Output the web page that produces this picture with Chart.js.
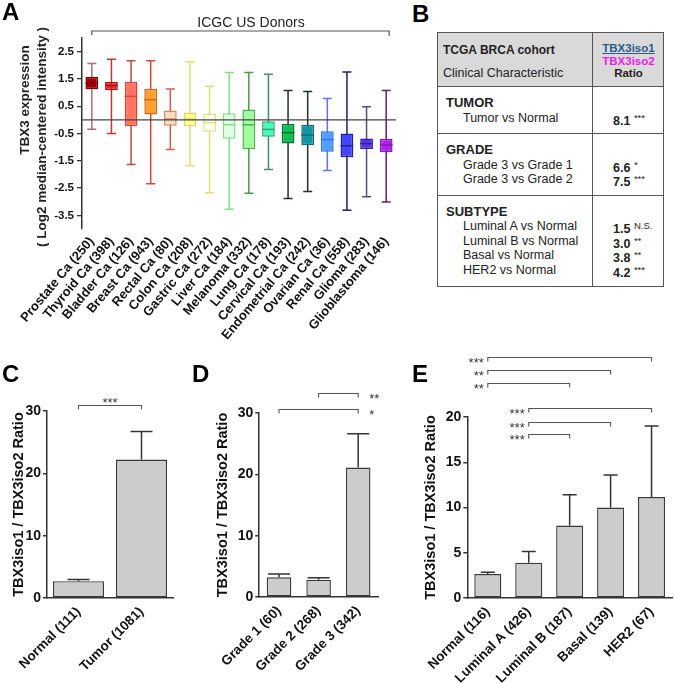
<!DOCTYPE html>
<html>
<head>
<meta charset="utf-8">
<script src="https://cdn.jsdelivr.net/npm/chart.js@4.4.1/dist/chart.umd.min.js"></script>
<style>
  body { margin: 0; background: #fff; font-family: "Liberation Sans", Arial, sans-serif; }
  #page { position: relative; width: 674px; height: 683px; overflow: hidden; }
  canvas { position: absolute; }
  .letter { position: absolute; font-size: 24px; font-weight: bold; line-height: 24px; color: #000; }
  #tbl { position: absolute; left: 437px; top: 32px; width: 227px; height: 255px; border: 1.5px solid #555; box-sizing: border-box; color: #222; font-size: 12.5px; }
  #divider { position: absolute; left: 154px; top: 0; bottom: 0; border-left: 1.5px solid #555; }
  .sec { position: absolute; left: 0; right: 0; border-top: 1.5px solid #555; box-sizing: border-box; }
  .line { position: absolute; white-space: nowrap; line-height: 14px; }
  .sig { font-weight: normal; font-size: 9.5px; vertical-align: 4px; }
</style>
</head>
<body>
<div id="page">
  <canvas id="chartA" width="410" height="380" style="left:0;top:0"></canvas>
  <canvas id="chartC" width="210" height="303" style="left:0;top:380px"></canvas>
  <canvas id="chartD" width="210" height="303" style="left:210px;top:380px"></canvas>
  <canvas id="chartE" width="254" height="353" style="left:420px;top:330px"></canvas>
  <div id="tbl"><div id="divider"></div></div>
  <div class="letter" style="left:2px;top:0">A</div>
  <div class="letter" style="left:412px;top:2px">B</div>
  <div class="letter" style="left:2px;top:362px">C</div>
  <div class="letter" style="left:192px;top:362px">D</div>
  <div class="letter" style="left:412px;top:362px">E</div>
</div>
<script>
// panel A - ICGC boxplots
var cancers = ["Prostate Ca (250)", "Thyroid Ca (398)", "Bladder Ca (126)", "Breast Ca (943)", "Rectal Ca (80)", "Colon Ca (208)", "Gastric Ca (272)", "Liver Ca (184)", "Melanoma (332)", "Lung Ca (178)", "Cervical Ca (193)", "Endometrial Ca (242)", "Ovarian Ca (36)", "Renal Ca (558)", "Glioma (283)", "Glioblastoma (146)"];
var whiskerMax = [2.07, 2.22, 2.17, 2.17, 1.13, 2.13, 1.23, 1.74, 1.74, 1.67, 1.08, 1.04, 0.78, 1.75, 0.48, 1.08];
var q3 = [1.58, 1.39, 1.40, 1.14, 0.34, 0.27, 0.23, 0.24, 0.38, -0.05, -0.15, -0.18, -0.42, -0.50, -0.68, -0.69];
var medians = [1.35, 1.26, 0.86, 0.74, 0.03, 0.03, -0.10, -0.18, -0.18, -0.35, -0.47, -0.56, -0.72, -0.95, -0.87, -0.92];
var q1 = [1.12, 1.09, -0.23, 0.20, -0.22, -0.23, -0.44, -0.69, -1.08, -0.62, -0.87, -0.93, -1.17, -1.37, -1.07, -1.19];
var whiskerMin = [-0.34, -0.50, -1.64, -2.34, -1.09, -1.68, -2.67, -3.28, -2.69, -1.82, -2.88, -2.63, -1.86, -3.31, -2.82, -3.01];
var aTicks = [2.5, 1.5, 0.5, -0.5, -1.5, -2.5, -3.5];
var boxFill = ["#a00000", "#e82828", "#ff7460", "#ffa030", "#ffdcc0", "#ffff98", "#fffff0", "#e0ffe8", "#a0ffa0", "#40ffb8", "#10c058", "#1098a8", "#50a0ff", "#4444ff", "#5a30f0", "#b020f0"];
var boxLine = ["#800000", "#b01010", "#d04838", "#d06818", "#d88860", "#d8d860", "#e0e080", "#80e080", "#50b050", "#40a070", "#107030", "#106878", "#3070e0", "#2020a0", "#302090", "#8020a0"];
var whiskColor = ["#a87070", "#b83838", "#c04848", "#d04838", "#c86050", "#e0e070", "#e0e070", "#80e080", "#40a040", "#409060", "#203030", "#203030", "#6070f0", "#202060", "#505080", "#602060"];

// panels C, D, E - TCGA ratios
var tumorLabels = ["Normal (111)", "Tumor (1081)"];
var tumorRatio = [2.7, 22.2];
var tumorErr = [2.95, 26.7];
var gradeLabels = ["Grade 1 (60)", "Grade 2 (268)", "Grade 3 (342)"];
var gradeRatio = [3.2, 2.8, 21.1];
var gradeErr = [3.75, 3.15, 26.6];
var subtypeLabels = ["Normal (116)", "Luminal A (426)", "Luminal B (187)", "Basal (139)", "HER2 (67)"];
var subtypeRatio = [2.65, 3.9, 8.0, 10.0, 11.15];
var subtypeErr = [2.85, 5.15, 11.4, 13.6, 19.0];

// table B
var tableGroups = ["TUMOR", "GRADE", "SUBTYPE"];
var tableComparisons = [["Tumor vs Normal"], ["Grade 3 vs Grade 1", "Grade 3 vs Grade 2"], ["Luminal A vs Normal", "Luminal B vs Normal", "Basal vs Normal", "HER2 vs Normal"]];
var tableRatios = [["8.1"], ["6.6", "7.5"], ["1.5", "3.0", "3.8", "4.2"]];
var tableSignif = [["***"], ["*", "***"], ["N.S.", "**", "**", "***"]];

Chart.defaults.font.family = "'Liberation Sans', Arial, sans-serif";
Chart.defaults.color = '#111';
Chart.defaults.animation = false;

var boxPlugin = {
  id: 'boxPlot',
  beforeDatasetsDraw: function (chart) {
    var ctx = chart.ctx, y = chart.scales.y, meta = chart.getDatasetMeta(0);
    ctx.save();
    ctx.lineWidth = 1.5;
    for (var i = 0; i < cancers.length; i++) {
      var x = meta.data[i].x;
      var top = y.getPixelForValue(whiskerMax[i]), bot = y.getPixelForValue(whiskerMin[i]);
      ctx.strokeStyle = whiskColor[i];
      ctx.beginPath();
      ctx.moveTo(x, top); ctx.lineTo(x, bot);
      ctx.moveTo(x - 4.5, top); ctx.lineTo(x + 4.5, top);
      ctx.moveTo(x - 4.5, bot); ctx.lineTo(x + 4.5, bot);
      ctx.stroke();
    }
    ctx.restore();
  },
  afterDatasetsDraw: function (chart) {
    var ctx = chart.ctx, y = chart.scales.y, meta = chart.getDatasetMeta(0), a = chart.chartArea;
    ctx.save();
    ctx.lineWidth = 1.5;
    for (var i = 0; i < cancers.length; i++) {
      var bar = meta.data[i], ym = y.getPixelForValue(medians[i]);
      ctx.strokeStyle = boxLine[i];
      ctx.beginPath();
      ctx.moveTo(bar.x - bar.width / 2, ym); ctx.lineTo(bar.x + bar.width / 2, ym);
      ctx.stroke();
    }
    var y0 = y.getPixelForValue(0);
    ctx.strokeStyle = '#444';
    ctx.lineWidth = 1.3;
    ctx.beginPath(); ctx.moveTo(a.left, y0); ctx.lineTo(a.right, y0); ctx.stroke();
    ctx.restore();
  },
  afterDraw: function (chart) {
    var ctx = chart.ctx, meta = chart.getDatasetMeta(0);
    var x1 = meta.data[0].x, x2 = meta.data[cancers.length - 1].x + 3;
    ctx.save();
    ctx.strokeStyle = '#555';
    ctx.lineWidth = 1.2;
    ctx.beginPath();
    ctx.moveTo(x1, 35); ctx.lineTo(x1, 31); ctx.lineTo(x2, 31); ctx.lineTo(x2, 36);
    ctx.stroke();
    ctx.fillStyle = '#222';
    ctx.font = "14px 'Liberation Sans', Arial, sans-serif";
    ctx.textAlign = 'center';
    ctx.textBaseline = 'alphabetic';
    ctx.fillText('ICGC US Donors', 251, 27);
    ctx.font = "bold 13.5px 'Liberation Sans', Arial, sans-serif";
    ctx.textBaseline = 'middle';
    ctx.translate(25, 100); ctx.rotate(-Math.PI / 2);
    ctx.fillText('TBX3 expression', 0, 0);
    ctx.rotate(Math.PI / 2); ctx.translate(17, 37); ctx.rotate(-Math.PI / 2);
    ctx.fillText('( Log2 median-centered intensity )', 0, 0);
    ctx.restore();
  }
};

new Chart(document.getElementById('chartA'), {
  type: 'bar',
  data: {
    labels: cancers,
    datasets: [{
      data: cancers.map(function (c, i) { return [q1[i], q3[i]]; }),
      backgroundColor: boxFill,
      borderColor: boxLine,
      borderWidth: 1.5,
      borderSkipped: false,
      barPercentage: 0.65,
      categoryPercentage: 1
    }]
  },
  options: {
    responsive: false,
    layout: { padding: { left: 0, right: 14, top: 38, bottom: 0 } },
    plugins: { legend: { display: false }, tooltip: { enabled: false } },
    scales: {
      x: {
        grid: { display: false, drawTicks: false },
        border: { display: false },
        ticks: { font: { size: 13, weight: 'bold' }, color: '#111', minRotation: 50, maxRotation: 50, padding: 5, autoSkip: false },
        afterFit: function (s) { s.height = 151; }
      },
      y: {
        min: -4, max: 3,
        afterBuildTicks: function (s) { s.ticks = aTicks.map(function (v) { return { value: v }; }); },
        ticks: { font: { size: 11.5, weight: 'bold' }, color: '#111', padding: 3, callback: function (v) { return (v < 0 ? '-' : '') + Math.abs(v).toFixed(1); } },
        grid: { drawOnChartArea: false, tickLength: 5, color: '#333', lineWidth: 1.3 },
        border: { color: '#333', width: 1.5 },
        afterFit: function (s) { s.width = 82; }
      }
    }
  },
  plugins: [boxPlugin]
});

function errorPlugin(errors, brackets, capW) {
  return {
    id: 'errorBars',
    afterDatasetsDraw: function (chart) {
      var ctx = chart.ctx, y = chart.scales.y, meta = chart.getDatasetMeta(0);
      ctx.save();
      ctx.strokeStyle = '#333';
      ctx.lineWidth = 1.5;
      for (var i = 0; i < errors.length; i++) {
        var bar = meta.data[i], yt = y.getPixelForValue(errors[i]);
        ctx.beginPath();
        ctx.moveTo(bar.x, bar.y); ctx.lineTo(bar.x, yt);
        ctx.moveTo(bar.x - capW / 2, yt); ctx.lineTo(bar.x + capW / 2, yt);
        ctx.stroke();
      }
      ctx.lineWidth = 1.1;
      ctx.strokeStyle = '#555';
      ctx.fillStyle = '#333';
      ctx.font = "13px 'Liberation Sans', Arial, sans-serif";
      ctx.textBaseline = 'alphabetic';
      brackets.forEach(function (b) {
        var x1 = meta.data[b.from].x, x2 = meta.data[b.to].x, yb = Math.round(y.getPixelForValue(b.level)) + 0.5;
        ctx.beginPath();
        ctx.moveTo(x1, yb + 4); ctx.lineTo(x1, yb); ctx.lineTo(x2, yb); ctx.lineTo(x2, yb + 4);
        ctx.stroke();
        if (b.side === 'top') { ctx.textAlign = 'center'; ctx.fillText(b.text, (x1 + x2) / 2, yb + 1); }
        else if (b.side === 'right') { ctx.textAlign = 'left'; ctx.fillText(b.text, x2 + 11, yb + 9); }
        else { ctx.textAlign = 'right'; ctx.fillText(b.text, x1 - 4, yb + 9); }
      });
      ctx.restore();
    }
  };
}

function makeBarChart(canvasId, labels, values, errors, brackets, setup) {
  return new Chart(document.getElementById(canvasId), {
    type: 'bar',
    data: {
      labels: labels,
      datasets: [{
        data: values,
        backgroundColor: '#cccccc',
        borderColor: '#3a3a3a',
        borderWidth: 1.4,
        borderSkipped: false,
        barPercentage: setup.barPct,
        categoryPercentage: 1
      }]
    },
    options: {
      responsive: false,
      layout: { padding: setup.padding },
      plugins: { legend: { display: false }, tooltip: { enabled: false } },
      scales: {
        x: {
          grid: { display: false, drawTicks: false },
          border: { color: '#333', width: 1.5 },
          ticks: { font: { size: 13.5, weight: 'bold' }, color: '#111', minRotation: 45, maxRotation: 45, padding: 6, autoSkip: false },
          afterFit: function (s) { s.height = setup.xHeight; }
        },
        y: {
          min: 0, max: setup.yMax,
          ticks: { stepSize: setup.yStep, font: { size: 14, weight: 'bold' }, color: '#111', padding: 2 },
          grid: { drawOnChartArea: false, tickLength: 4, color: '#333', lineWidth: 1.5 },
          border: { color: '#333', width: 1.5 },
          title: { display: true, text: 'TBX3iso1 / TBX3iso2 Ratio', font: { size: 14.5, weight: 'bold' }, color: '#111', padding: { top: setup.titlePad, bottom: 0 } },
          afterFit: function (s) { s.width = setup.yWidth; }
        }
      }
    },
    plugins: [errorPlugin(errors, brackets, setup.capW)]
  });
}

makeBarChart('chartC', tumorLabels, tumorRatio, tumorErr,
  [{ from: 0, to: 1, level: 31, text: '***', side: 'top' }],
  { padding: { left: 0, right: 37, top: 31, bottom: 0 }, xHeight: 85, yWidth: 47, yMax: 30, yStep: 10, titlePad: 10, barPct: 0.81, capW: 22 });

makeBarChart('chartD', gradeLabels, gradeRatio, gradeErr,
  [{ from: 1, to: 2, level: 33.3, text: '**', side: 'right' },
   { from: 0, to: 2, level: 30.7, text: '*', side: 'right' }],
  { padding: { left: 0, right: 42, top: 33, bottom: 0 }, xHeight: 86, yWidth: 47, yMax: 30, yStep: 10, titlePad: 2, barPct: 0.62, capW: 22 });

makeBarChart('chartE', subtypeLabels, subtypeRatio, subtypeErr,
  [{ from: 0, to: 4, level: 26.6, text: '***', side: 'left' },
   { from: 0, to: 3, level: 25.2, text: '**', side: 'left' },
   { from: 0, to: 2, level: 23.8, text: '**', side: 'left' },
   { from: 1, to: 4, level: 21.0, text: '***', side: 'left' },
   { from: 1, to: 3, level: 19.5, text: '***', side: 'left' },
   { from: 1, to: 2, level: 18.1, text: '***', side: 'left' }],
  { padding: { left: 0, right: 2, top: 87, bottom: 0 }, xHeight: 85, yWidth: 45, yMax: 20, yStep: 5, titlePad: 0, barPct: 0.66, capW: 14 });

// table B
function addLine(parent, html, left, top, css) {
  var d = document.createElement('div');
  d.className = 'line';
  d.innerHTML = html;
  d.style.left = left + 'px';
  d.style.top = top + 'px';
  if (css) d.style.cssText += css;
  parent.appendChild(d);
  return d;
}
var tbl = document.getElementById('tbl');
var head = document.createElement('div');
head.style.cssText = 'position:absolute;left:0;right:0;top:0;height:53px;background:#d9d9d9;';
tbl.insertBefore(head, tbl.firstChild);
addLine(tbl, 'TCGA BRCA cohort', 5, 10, 'font-weight:bold;font-size:12px;');
addLine(tbl, 'Clinical Characteristic', 5, 33, 'font-size:12.5px;');
addLine(tbl, 'TBX3iso1', 155, 8, 'width:71px;text-align:center;font-weight:bold;font-size:11.5px;color:#2a5a8c;text-decoration:underline;');
addLine(tbl, 'TBX3iso2', 155, 21, 'width:71px;text-align:center;font-weight:bold;font-size:11.5px;color:#e81ee8;');
addLine(tbl, 'Ratio', 155, 33, 'width:71px;text-align:center;font-weight:bold;font-size:11.5px;');
var secTop = 53;
var rowH = 14.5;
for (var g = 0; g < tableGroups.length; g++) {
  var h = 18 + rowH * (tableComparisons[g].length + 1);
  var sec = document.createElement('div');
  sec.className = 'sec';
  sec.style.top = secTop + 'px';
  sec.style.height = h + 'px';
  tbl.appendChild(sec);
  addLine(sec, tableGroups[g], 8, 9, 'font-weight:bold;font-size:13px;');
  for (var r = 0; r < tableComparisons[g].length; r++) {
    addLine(sec, tableComparisons[g][r], 25, 9 + rowH * (r + 1));
    addLine(sec, '<b>' + tableRatios[g][r] + '</b> <span class="sig">' + tableSignif[g][r] + '</span>', 175, 9 + rowH * (r + 1));
  }
  secTop += h;
}
</script>
</body>
</html>
